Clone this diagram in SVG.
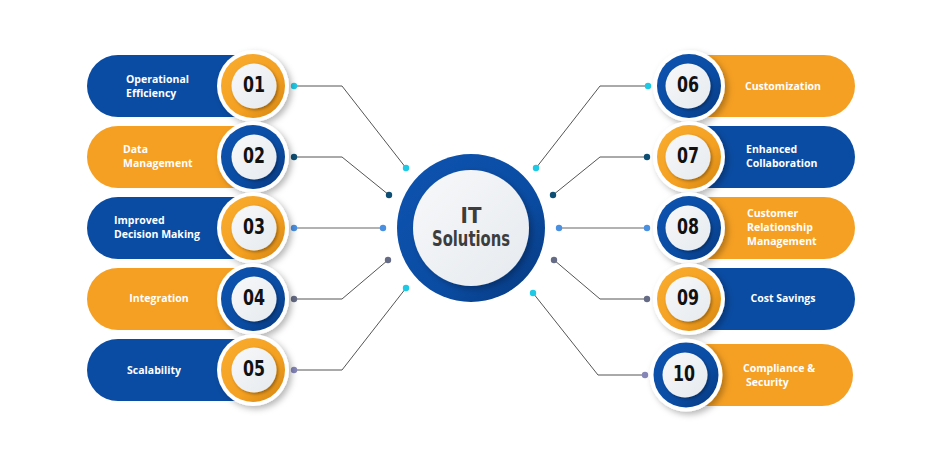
<svg xmlns="http://www.w3.org/2000/svg" width="940" height="450" viewBox="0 0 940 450">
<defs>
<linearGradient id="gOr" x1="0" y1="0" x2="1" y2="1"><stop offset="0" stop-color="#f9ad2f"/><stop offset="0.6" stop-color="#f4a021"/><stop offset="1" stop-color="#d2850f"/></linearGradient>
<linearGradient id="gBl" x1="0" y1="0" x2="1" y2="1"><stop offset="0" stop-color="#0d53b0"/><stop offset="0.6" stop-color="#0a4ca3"/><stop offset="1" stop-color="#07387d"/></linearGradient>
<linearGradient id="gIn" x1="0" y1="0" x2="1" y2="1"><stop offset="0" stop-color="#f7f8fa"/><stop offset="1" stop-color="#e6eaee"/></linearGradient>
<filter id="sh" x="-30%" y="-30%" width="170%" height="170%"><feDropShadow dx="3" dy="3" stdDeviation="3" flood-color="#000" flood-opacity="0.28"/></filter>
<filter id="shs" x="-30%" y="-30%" width="170%" height="170%"><feDropShadow dx="1.5" dy="1.5" stdDeviation="1.5" flood-color="#000" flood-opacity="0.35"/></filter>
</defs>
<style>
.pb{fill:#0a4ca3}.po{fill:#f5a023}
.ro{fill:url(#gOr)}.rb{fill:url(#gBl)}
.wh{fill:#fff;filter:url(#sh)}
.in{fill:url(#gIn);filter:url(#shs)}
.num{font-family:"DejaVu Sans Condensed","DejaVu Sans",sans-serif;font-weight:bold;font-size:21px;fill:#111;text-anchor:middle}
.lb{font-family:"Open Sans","Noto Sans",sans-serif;font-weight:700;font-size:10.5px;fill:#fff}
.c{text-anchor:middle}
.ln{fill:none;stroke:#555;stroke-width:1}
.ln2{fill:none;stroke:#999;stroke-width:1.5}
.ctr{font-family:"DejaVu Sans Condensed","DejaVu Sans",sans-serif;font-weight:bold;font-size:22px;fill:#3d3d3d;text-anchor:middle}
</style>
<rect width="940" height="450" fill="#fff"/>

<g id="connectors">
<polyline class="ln" points="294,86 342,86 406,168"/>
<polyline class="ln" points="294,157 342,157 389,195"/>
<line class="ln2" x1="294" y1="228" x2="383" y2="228"/>
<polyline class="ln" points="294,299 342,299 388,260"/>
<polyline class="ln" points="294,370 342,370 406,288"/>
<polyline class="ln" points="648,86 600,86 536,168"/>
<polyline class="ln" points="647,157 600,157 553,195"/>
<line class="ln2" x1="647" y1="228" x2="559" y2="228"/>
<polyline class="ln" points="647,299 600,299 554,260"/>
<polyline class="ln" points="645,375 598,375 533,293"/>
<circle cx="294" cy="86" r="3.2" fill="#1ec9e6"/><circle cx="406" cy="168" r="3.2" fill="#1ec9e6"/>
<circle cx="294" cy="157" r="3.2" fill="#0d4f74"/><circle cx="389" cy="195" r="3.2" fill="#0d4f74"/>
<circle cx="294" cy="228" r="3.2" fill="#4a90e2"/><circle cx="383" cy="228" r="3.2" fill="#4a90e2"/>
<circle cx="294" cy="299" r="3.2" fill="#666b85"/><circle cx="388" cy="260" r="3.2" fill="#666b85"/>
<circle cx="294" cy="370" r="3.2" fill="#8585b8"/><circle cx="406" cy="288" r="3.2" fill="#1ec9e6"/>
<circle cx="648" cy="86" r="3.2" fill="#1ec9e6"/><circle cx="536" cy="168" r="3.2" fill="#1ec9e6"/>
<circle cx="647" cy="157" r="3.2" fill="#0d4f74"/><circle cx="553" cy="195" r="3.2" fill="#0d4f74"/>
<circle cx="647" cy="228" r="3.2" fill="#4a90e2"/><circle cx="559" cy="228" r="3.2" fill="#4a90e2"/>
<circle cx="647" cy="299" r="3.2" fill="#666b85"/><circle cx="554" cy="260" r="3.2" fill="#666b85"/>
<circle cx="645" cy="375" r="3.2" fill="#8585b8"/><circle cx="533" cy="293" r="3.2" fill="#1ec9e6"/>
</g>

<g id="center">
<circle cx="471" cy="228" r="74" class="rb"/>
<circle cx="471" cy="228" r="58" fill="url(#gIn)" filter="url(#sh)"/>
<text class="ctr" x="471" y="223">IT</text>
<text class="ctr" x="471" y="246" textLength="78" lengthAdjust="spacingAndGlyphs">Solutions</text>
</g>

<g id="item01">
<path class="pb" d="M118,55 H253 V117 H118 A31,31 0 0 1 118,55 Z"/>
<circle class="wh" cx="253" cy="86" r="36"/><circle class="ro" cx="253" cy="86" r="32"/><circle class="in" cx="254" cy="86" r="22.5"/>
<text class="num" x="254" y="92" textLength="22" lengthAdjust="spacingAndGlyphs">01</text>
<text class="lb" x="126" y="83">Operational</text><text class="lb" x="126" y="97">Efficiency</text>
</g>
<g id="item02">
<path class="po" d="M118,126 H253 V188 H118 A31,31 0 0 1 118,126 Z"/>
<circle class="wh" cx="253" cy="157" r="36"/><circle class="rb" cx="253" cy="157" r="32"/><circle class="in" cx="254" cy="157" r="22.5"/>
<text class="num" x="254" y="163" textLength="22" lengthAdjust="spacingAndGlyphs">02</text>
<text class="lb" x="123" y="153">Data</text><text class="lb" x="123" y="167">Management</text>
</g>
<g id="item03">
<path class="pb" d="M118,197 H253 V259 H118 A31,31 0 0 1 118,197 Z"/>
<circle class="wh" cx="253" cy="228" r="36"/><circle class="ro" cx="253" cy="228" r="32"/><circle class="in" cx="254" cy="228" r="22.5"/>
<text class="num" x="254" y="234" textLength="22" lengthAdjust="spacingAndGlyphs">03</text>
<text class="lb" x="114" y="224">Improved</text><text class="lb" x="114" y="238">Decision Making</text>
</g>
<g id="item04">
<path class="po" d="M118,268 H253 V330 H118 A31,31 0 0 1 118,268 Z"/>
<circle class="wh" cx="253" cy="299" r="36"/><circle class="rb" cx="253" cy="299" r="32"/><circle class="in" cx="254" cy="299" r="22.5"/>
<text class="num" x="254" y="305" textLength="22" lengthAdjust="spacingAndGlyphs">04</text>
<text class="lb c" x="159" y="302">Integration</text>
</g>
<g id="item05">
<path class="pb" d="M118,339 H253 V401 H118 A31,31 0 0 1 118,339 Z"/>
<circle class="wh" cx="253" cy="370" r="36"/><circle class="ro" cx="253" cy="370" r="32"/><circle class="in" cx="254" cy="370" r="22.5"/>
<text class="num" x="254" y="376" textLength="22" lengthAdjust="spacingAndGlyphs">05</text>
<text class="lb c" x="154" y="374">Scalability</text>
</g>

<g id="item06">
<path class="po" d="M689,55 H824 A31,31 0 0 1 824,117 H689 Z"/>
<circle class="wh" cx="689" cy="86" r="36"/><circle class="rb" cx="689" cy="86" r="32"/><circle class="in" cx="688" cy="86" r="22.5"/>
<text class="num" x="688" y="92" textLength="22" lengthAdjust="spacingAndGlyphs">06</text>
<text class="lb c" x="783" y="90">Customization</text>
</g>
<g id="item07">
<path class="pb" d="M689,126 H824 A31,31 0 0 1 824,188 H689 Z"/>
<circle class="wh" cx="689" cy="157" r="36"/><circle class="ro" cx="689" cy="157" r="32"/><circle class="in" cx="688" cy="157" r="22.5"/>
<text class="num" x="688" y="163" textLength="22" lengthAdjust="spacingAndGlyphs">07</text>
<text class="lb" x="746" y="153">Enhanced</text><text class="lb" x="746" y="167">Collaboration</text>
</g>
<g id="item08">
<path class="po" d="M689,197 H824 A31,31 0 0 1 824,259 H689 Z"/>
<circle class="wh" cx="689" cy="228" r="36"/><circle class="rb" cx="689" cy="228" r="32"/><circle class="in" cx="688" cy="228" r="22.5"/>
<text class="num" x="688" y="234" textLength="22" lengthAdjust="spacingAndGlyphs">08</text>
<text class="lb" x="747" y="217">Customer</text><text class="lb" x="747" y="231">Relationship</text><text class="lb" x="747" y="245">Management</text>
</g>
<g id="item09">
<path class="pb" d="M689,268 H824 A31,31 0 0 1 824,330 H689 Z"/>
<circle class="wh" cx="689" cy="299" r="36"/><circle class="ro" cx="689" cy="299" r="32"/><circle class="in" cx="688" cy="299" r="22.5"/>
<text class="num" x="688" y="305" textLength="22" lengthAdjust="spacingAndGlyphs">09</text>
<text class="lb c" x="783" y="302">Cost Savings</text>
</g>
<g id="item10">
<path class="po" d="M686,344 H822 A31,31 0 0 1 822,406 H686 Z"/>
<circle class="wh" cx="686" cy="375" r="36.5"/><circle class="rb" cx="686" cy="375" r="32.5"/><circle class="in" cx="685" cy="375" r="22.5"/>
<text class="num" x="684" y="381" textLength="22" lengthAdjust="spacingAndGlyphs">10</text>
<text class="lb" x="743" y="372">Compliance &amp;</text><text class="lb" x="746" y="386">Security</text>
</g>
</svg>
